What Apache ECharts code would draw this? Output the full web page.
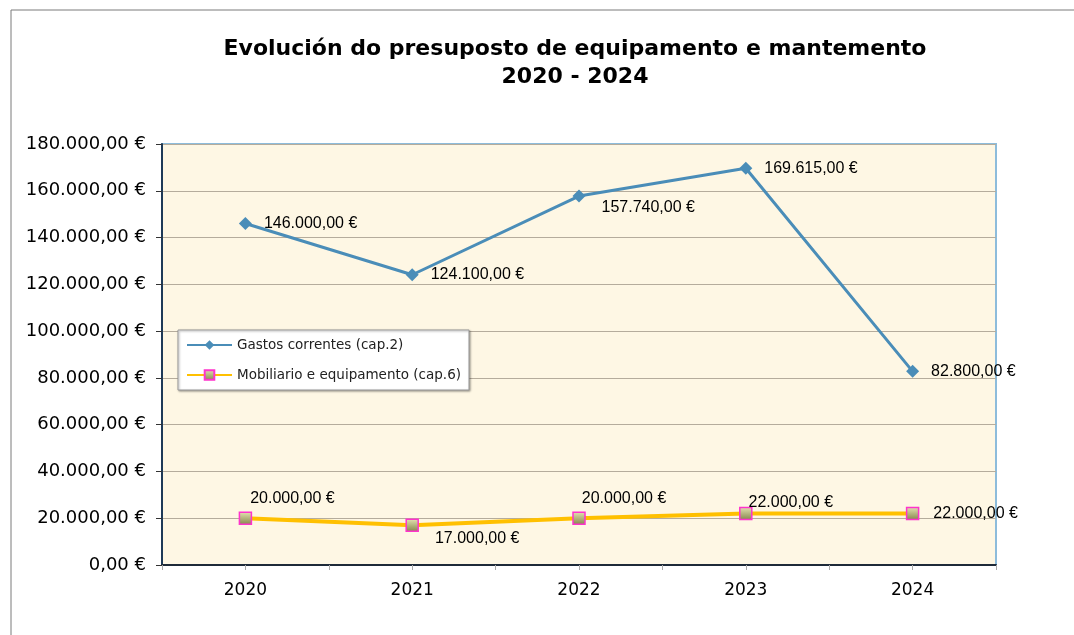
<!DOCTYPE html>
<html>
<head>
<meta charset="utf-8">
<script src="https://cdn.jsdelivr.net/npm/echarts@6/dist/echarts.min.js"></script>
<style>
  html, body { margin: 0; padding: 0; background: #fff; }
  #main { width: 1074px; height: 635px; }
</style>
</head>
<body>
<div id="main"></div>
<script>
// data
const years = ['2020', '2021', '2022', '2023', '2024'];
const gastosCorrentes = [146000, 124100, 157740, 169615, 82800];
const mobiliario = [20000, 17000, 20000, 22000, 22000];
const minorTicks = ['', '', '', '', '', '', '', '', '', ''];

// label placement (offsets in px) per point
const gastosLabelOffsets = [[0, 0], [0, 0], [4, 12], [0, 0], [0, 0]];
const mobLabelOffsets = [[-16, -20], [2, 13], [-18, -20], [-18, -11], [0, 0]];

function euro(v) {
    const s = v.toFixed(2).split('.');
    return s[0].replace(/\B(?=(\d{3})+(?!\d))/g, '.') + ',' + s[1] + ' €';
}

const chart = echarts.init(document.getElementById('main'));

const labelFont = { fontFamily: 'Liberation Sans', fontSize: 16, color: '#000' };

let option = {
    animation: false,
    backgroundColor: '#fff',
    textStyle: { fontFamily: 'DejaVu Sans' },
    title: {
        text: 'Evolución do presuposto de equipamento e mantemento\n2020 - 2024',
        left: 570,
        textAlign: 'center',
        top: 30,
        textStyle: { fontFamily: 'DejaVu Sans', fontWeight: 'bold', fontSize: 22, lineHeight: 28, color: '#000' }
    },
    graphic: [{
        type: 'rect',
        shape: { x: 11, y: 10, width: 1080, height: 640 },
        style: { fill: 'none', stroke: '#7a7a7a', lineWidth: 1 },
        silent: true
    }],
    legend: {
        orient: 'vertical',
        left: 178,
        top: 330,
        itemWidth: 45,
        itemHeight: 12,
        itemGap: 16,
        padding: [8, 8, 8, 8],
        backgroundColor: '#fff',
        borderColor: '#999',
        borderWidth: 1,
        shadowColor: 'rgba(0,0,0,0.35)',
        shadowOffsetX: 1,
        shadowOffsetY: 1,
        shadowBlur: 2,
        textStyle: { fontFamily: 'DejaVu Sans', fontSize: 13.5, color: '#222' },
        data: ['Gastos correntes (cap.2)', 'Mobiliario e equipamento (cap.6)']
    },
    grid: {
        left: 162, right: 78, top: 144, bottom: 70,
        show: true,
        backgroundColor: '#FEF7E4',
        borderColor: '#8DBCDB',
        borderWidth: 2
    },
    xAxis: [{
        type: 'category',
        data: years,
        boundaryGap: true,
        axisLine: { lineStyle: { color: '#1e2a38', width: 2 } },
        axisTick: { length: 6, lineStyle: { color: '#1e2a38' } },
        axisLabel: { fontFamily: 'DejaVu Sans', fontSize: 17, color: '#000', margin: 17 }
    }, {
        type: 'category',
        data: minorTicks,
        position: 'bottom',
        boundaryGap: true,
        axisLine: { show: false },
        axisTick: { show: true, interval: 0, length: 5, lineStyle: { color: '#aaa' } },
        axisLabel: { show: false }
    }],
    yAxis: {
        type: 'value',
        min: 0,
        max: 180000,
        interval: 20000,
        axisLine: { show: true, lineStyle: { color: '#1e3a58', width: 2 } },
        axisTick: { show: true, length: 6, lineStyle: { color: '#333' } },
        splitLine: { lineStyle: { color: '#B5AC9C', width: 1.2 } },
        axisLabel: {
            fontFamily: 'DejaVu Sans', fontSize: 18, color: '#000', margin: 16,
            formatter: v => euro(v)
        }
    },
    series: [{
        name: 'Gastos correntes (cap.2)',
        type: 'line',
        data: gastosCorrentes.map((v, i) => ({
            value: v,
            label: { offset: gastosLabelOffsets[i] }
        })),
        symbol: 'diamond',
        symbolSize: 13,
        lineStyle: { color: '#4A8DB8', width: 3 },
        itemStyle: { color: '#4A8DB8' },
        label: {
            show: true,
            position: 'right',
            distance: 12,
            formatter: p => euro(p.value),
            ...labelFont
        },
        z: 3
    }, {
        name: 'Mobiliario e equipamento (cap.6)',
        type: 'line',
        data: mobiliario.map((v, i) => ({
            value: v,
            label: { offset: mobLabelOffsets[i] }
        })),
        symbol: 'rect',
        symbolSize: 12,
        lineStyle: { color: '#FFC000', width: 4 },
        itemStyle: {
            color: new echarts.graphic.LinearGradient(0, 0, 0, 1, [
                { offset: 0, color: '#E6E6B4' },
                { offset: 1, color: '#84844A' }
            ]),
            borderColor: '#FF33CC',
            borderWidth: 1.5
        },
        label: {
            show: true,
            position: 'right',
            distance: 14,
            formatter: p => euro(p.value),
            ...labelFont
        },
        z: 3
    }]
};

chart.setOption(option);
</script>
</body>
</html>
